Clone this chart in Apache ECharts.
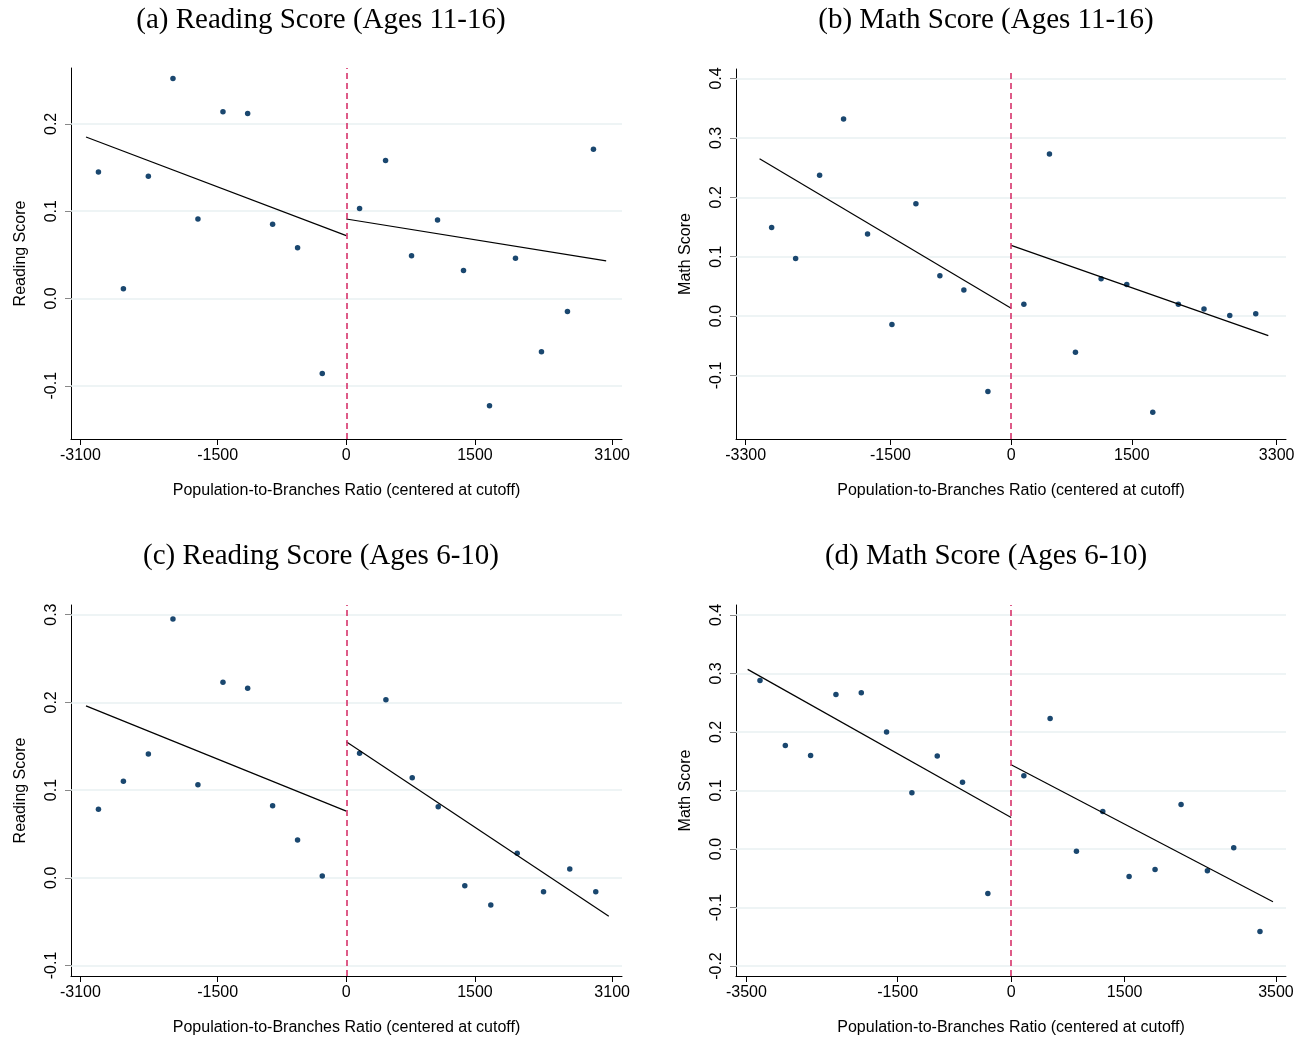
<!DOCTYPE html>
<html><head><meta charset="utf-8">
<script src="https://cdn.jsdelivr.net/npm/echarts@6/dist/echarts.min.js"></script>
<style>html,body{margin:0;padding:0;background:#fff}#c{width:1307px;height:1038px}</style>
</head><body><div id="c"></div>
<script>
// ---------- Data ----------
const titleA = '(a) Reading Score (Ages 11-16)';
const titleB = '(b) Math Score (Ages 11-16)';
const titleC = '(c) Reading Score (Ages 6-10)';
const titleD = '(d) Math Score (Ages 6-10)';
const xName = 'Population-to-Branches Ratio (centered at cutoff)';
const yNameReading = 'Reading Score';
const yNameMath = 'Math Score';

// Panel (a)
const aX = [-2890,-2599,-2308,-2021,-1730,-1438,-1150,-859,-568,-280,155,458,761,1064,1367,1670,1973,2276,2579,2882];
const aY = [0.145,0.011,0.140,0.252,0.091,0.214,0.212,0.085,0.058,-0.086,0.103,0.158,0.049,0.090,0.032,-0.123,0.046,-0.061,-0.015,0.171];
const aFitLeft = [[-3035,0.185],[0,0.072]];
const aFitRight = [[0,0.091],[3030,0.043]];
const aXTicks = [-3100,-1500,0,1500,3100];
const aYTicks = [-0.1,0.0,0.1,0.2];
const aXRange = [-3210,3215];
const aYRange = [-0.161,0.264];

// Panel (b)
const bX = [-2977,-2679,-2381,-2083,-1785,-1482,-1184,-886,-588,-289,158,476,799,1118,1437,1760,2078,2397,2717,3040];
const bY = [0.149,0.097,0.237,0.332,0.138,-0.014,0.189,0.068,0.044,-0.127,0.020,0.273,-0.061,0.063,0.053,-0.162,0.020,0.012,0.001,0.004];
const bFitLeft = [[-3127,0.265],[0,0.013]];
const bFitRight = [[0,0.119],[3196,-0.033]];
const bXTicks = [-3300,-1500,0,1500,3300];
const bYTicks = [-0.1,0.0,0.1,0.2,0.3,0.4];
const bXRange = [-3420,3416];
const bYRange = [-0.207,0.416];

// Panel (c)
const cX = [-2890,-2599,-2308,-2021,-1730,-1438,-1150,-859,-568,-280,155,462,769,1072,1382,1685,1993,2300,2606,2909];
const cY = [0.078,0.110,0.141,0.295,0.106,0.223,0.216,0.082,0.043,0.002,0.142,0.203,0.114,0.081,-0.009,-0.031,0.028,-0.016,0.010,-0.016];
const cFitLeft = [[-3035,0.196],[0,0.076]];
const cFitRight = [[0,0.155],[3061,-0.044]];
const cXTicks = [-3100,-1500,0,1500,3100];
const cYTicks = [-0.1,0.0,0.1,0.2,0.3];
const cXRange = [-3210,3215];
const cYRange = [-0.112,0.311];

// Panel (d)
const dX = [-3320,-2985,-2651,-2316,-1981,-1647,-1312,-977,-643,-308,168,515,863,1211,1559,1902,2246,2594,2942,3289];
const dY = [0.288,0.177,0.160,0.264,0.267,0.200,0.096,0.159,0.114,-0.076,0.125,0.223,-0.004,0.064,-0.047,-0.035,0.076,-0.037,0.002,-0.141];
const dFitLeft = [[-3483,0.307],[0,0.054]];
const dFitRight = [[0,0.144],[3461,-0.090]];
const dXTicks = [-3500,-1500,0,1500,3500];
const dYTicks = [-0.2,-0.1,0.0,0.1,0.2,0.3,0.4];
const dXRange = [-3637,3633];
const dYRange = [-0.217,0.417];

const cutoff = 0;

// ---------- Layout / style ----------
const panels = [
  {title:titleA, yName:yNameReading, x:aX, y:aY, fl:aFitLeft, fr:aFitRight, xt:aXTicks, yt:aYTicks, xr:aXRange, yr:aYRange,
   grid:{left:71, top:68, width:551, height:371}, tx:316, ty:1},
  {title:titleB, yName:yNameMath, x:bX, y:bY, fl:bFitLeft, fr:bFitRight, xt:bXTicks, yt:bYTicks, xr:bXRange, yr:bYRange,
   grid:{left:736, top:69, width:550, height:370}, tx:981, ty:1},
  {title:titleC, yName:yNameReading, x:cX, y:cY, fl:cFitLeft, fr:cFitRight, xt:cXTicks, yt:cYTicks, xr:cXRange, yr:cYRange,
   grid:{left:71, top:605, width:551, height:371}, tx:316, ty:537},
  {title:titleD, yName:yNameMath, x:dX, y:dY, fl:dFitLeft, fr:dFitRight, xt:dXTicks, yt:dYTicks, xr:dXRange, yr:dYRange,
   grid:{left:736, top:605, width:550, height:371}, tx:981, ty:537}
];

const SANS = 'Liberation Sans, Arial, sans-serif';
const SERIF = 'Liberation Serif, Times New Roman, serif';
const DOT = '#1a476f';
const CUT = '#d6336b';
const GRIDC = '#e8f0f2';

const option = {animation:false, backgroundColor:'#fff', title:[], grid:[], xAxis:[], yAxis:[], series:[]};

panels.forEach((p, i) => {
  option.title.push({text:p.title, left:p.tx, top:p.ty, textAlign:'center',
    textStyle:{fontFamily:SERIF, fontSize:29, fontWeight:'normal', color:'#000'}});
  option.grid.push(Object.assign({containLabel:false}, p.grid));
  option.xAxis.push({gridIndex:i, type:'value', min:p.xr[0], max:p.xr[1],
    name:xName, nameLocation:'middle', nameGap:44,
    nameTextStyle:{fontFamily:SANS, fontSize:16, color:'#000'},
    axisLine:{show:true, onZero:false, lineStyle:{color:'#000', width:1}},
    axisTick:{show:true, length:6, customValues:p.xt, lineStyle:{color:'#000'}},
    axisLabel:{customValues:p.xt, fontFamily:SANS, fontSize:16, color:'#000', margin:9,
      formatter:v => String(Math.round(v))},
    splitLine:{show:false}});
  option.yAxis.push({gridIndex:i, type:'value', min:p.yr[0], max:p.yr[1],
    name:p.yName, nameLocation:'middle', nameGap:42, nameRotate:90,
    nameTextStyle:{fontFamily:SANS, fontSize:16, color:'#000'},
    axisLine:{show:true, onZero:false, lineStyle:{color:'#000', width:1}},
    axisTick:{show:true, length:6, customValues:p.yt, lineStyle:{color:'#888'}},
    axisLabel:{customValues:p.yt, rotate:90, fontFamily:SANS, fontSize:16, color:'#000', margin:11,
      formatter:v => (Math.abs(v) < 1e-9 ? 0 : v).toFixed(1)},
    splitLine:{show:false}});
  // horizontal grid lines (drawn below everything)
  option.series.push({type:'line', xAxisIndex:i, yAxisIndex:i, data:[], silent:true, z:1,
    markLine:{silent:true, z:1, symbol:['none','none'], label:{show:false},
      emphasis:{disabled:true},
      lineStyle:{color:GRIDC, width:1.5, type:'solid'},
      data:p.yt.map(v => ({yAxis:v}))}});
  // scatter
  option.series.push({type:'scatter', xAxisIndex:i, yAxisIndex:i, symbolSize:5.5, z:3,
    itemStyle:{color:DOT, opacity:1}, data:p.x.map((xv, k) => [xv, p.y[k]])});
  // fit lines
  option.series.push({type:'line', xAxisIndex:i, yAxisIndex:i, data:p.fl, showSymbol:false, z:4,
    lineStyle:{color:'#000', width:1.2}});
  option.series.push({type:'line', xAxisIndex:i, yAxisIndex:i, data:p.fr, showSymbol:false, z:4,
    lineStyle:{color:'#000', width:1.2},
    markLine:{silent:true, z:5, symbol:['none','none'], label:{show:false},
      emphasis:{disabled:true},
      lineStyle:{color:CUT, width:1.6, type:[6,4]}, data:[{xAxis:cutoff}]}});
});

const chart = echarts.init(document.getElementById('c'), null, {renderer:'canvas'});
chart.setOption(option);
</script>
</body></html>
